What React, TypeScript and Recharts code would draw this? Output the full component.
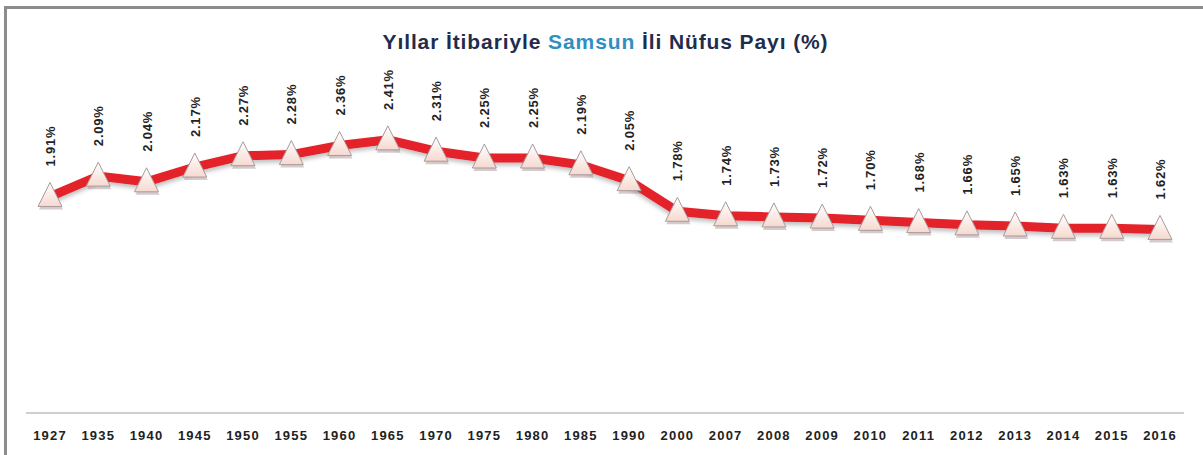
import { LineChart, Line, XAxis, YAxis, LabelList } from 'recharts';

const years = ['1927', '1935', '1940', '1945', '1950', '1955', '1960', '1965', '1970', '1975', '1980', '1985', '1990', '2000', '2007', '2008', '2009', '2010', '2011', '2012', '2013', '2014', '2015', '2016'];
const shares = [1.91, 2.09, 2.04, 2.17, 2.27, 2.28, 2.36, 2.41, 2.31, 2.25, 2.25, 2.19, 2.05, 1.78, 1.74, 1.73, 1.72, 1.70, 1.68, 1.66, 1.65, 1.63, 1.63, 1.62];

const data = years.map((year, i) => ({ year, share: shares[i] }));

const TriangleDot = (props: any) => {
  const { cx, cy, index } = props;
  if (cx == null || cy == null) return null;
  const w = 12;
  const top = cy - 14;
  const bottom = cy + 10;
  return (
    <g key={`dot-${index}`}>
      <polygon
        points={`${cx},${top + 3} ${cx + w + 1},${bottom + 3} ${cx - w + 1},${bottom + 3}`}
        fill="#8a6a70"
        opacity={0.35}
      />
      <polygon
        points={`${cx},${top} ${cx + w},${bottom} ${cx - w},${bottom}`}
        fill="url(#triFill)"
        stroke="#a89a9c"
        strokeWidth={1}
      />
    </g>
  );
};

const renderLabel = (props: any) => {
  const { x, y, value, index } = props;
  const lx = x + 5;
  const ly = y - 30;
  return (
    <text
      key={`lbl-${index}`}
      x={lx}
      y={ly}
      transform={`rotate(-90, ${lx}, ${ly})`}
      textAnchor="start"
      fontSize={13}
      fontWeight="bold"
      letterSpacing={0.8}
      fill="#222"
      fontFamily="'Liberation Sans', Arial, sans-serif"
    >
      {`${Number(value).toFixed(2)}%`}
    </text>
  );
};

export default function App() {
  return (
    <div style={{ position: 'absolute', left: 0, top: 0, width: 1203, height: 455, background: '#fff' }}>
      <div
        style={{
          position: 'absolute',
          left: 4,
          top: 6,
          width: 1199,
          height: 449,
          borderTop: '3px solid #8c8c8c',
          borderLeft: '3px solid #8c8c8c',
          boxSizing: 'border-box',
        }}
      />
      <div
        style={{
          position: 'absolute',
          left: 4,
          top: 30,
          width: 1203,
          textAlign: 'center',
          fontFamily: "'Liberation Sans', Arial, sans-serif",
          fontWeight: 'bold',
          fontSize: 21,
          letterSpacing: 0.9,
          color: '#1f2d4d',
        }}
      >
        Yıllar İtibariyle <span style={{ color: '#2f8fc2' }}>Samsun</span> İli Nüfus Payı (%)
      </div>
      <div style={{ position: 'absolute', left: 0, top: 0 }}>
        <LineChart width={1203} height={455} data={data} margin={{ top: 73, right: 19, bottom: 12, left: 26 }}>
          <defs>
            <linearGradient id="triFill" x1="0" y1="0" x2="0" y2="1">
              <stop offset="0%" stopColor="#ffffff" />
              <stop offset="100%" stopColor="#f6d9cf" />
            </linearGradient>
            <filter id="lineShadow" x="-5%" y="-50%" width="110%" height="200%">
              <feDropShadow dx="0" dy="3" stdDeviation="2" floodColor="#000" floodOpacity="0.25" />
            </filter>
          </defs>
          <XAxis
            dataKey="year"
            padding={{ left: 24, right: 24 }}
            axisLine={{ stroke: '#bfbfbf', strokeWidth: 1.5 }}
            tickLine={false}
            interval={0}
            tick={{ fontSize: 13, fontWeight: 'bold', fill: '#222', letterSpacing: 1.2, fontFamily: "'Liberation Sans', Arial, sans-serif" }}
            tickMargin={12}
          />
          <YAxis hide domain={[0, 3]} />
          <Line
            type="linear"
            dataKey="share"
            stroke="#e3202a"
            strokeWidth={9}
            filter="url(#lineShadow)"
            dot={<TriangleDot />}
            activeDot={false}
            isAnimationActive={false}
          >
            <LabelList dataKey="share" content={renderLabel} />
          </Line>
        </LineChart>
      </div>
    </div>
  );
}
